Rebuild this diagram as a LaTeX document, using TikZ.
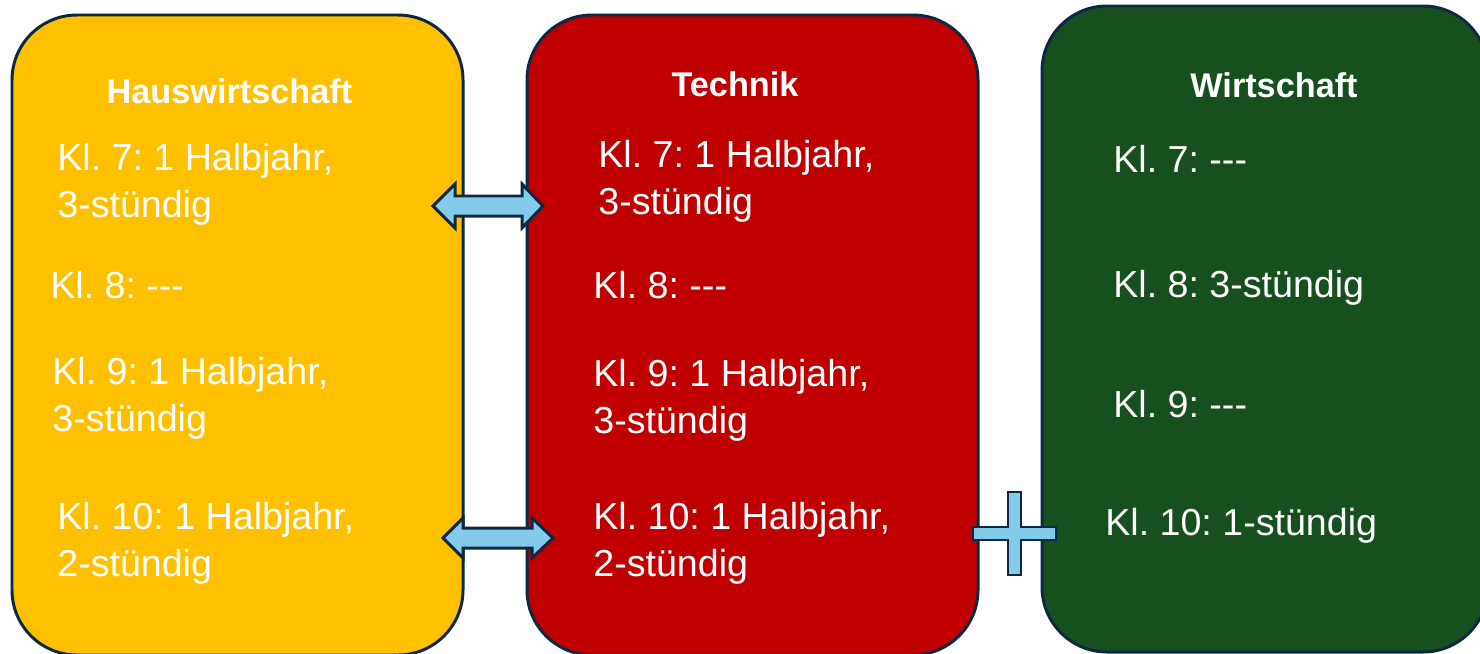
\documentclass[tikz,border=0pt]{standalone}
\usepackage{fontspec}
\setmainfont{Liberation Sans}
\frenchspacing
\definecolor{hwyellow}{HTML}{FFC000}
\definecolor{tered}{HTML}{C00000}
\definecolor{wigreen}{HTML}{17501F}
\definecolor{edgeblue}{HTML}{0E2841}
\definecolor{arrowblue}{HTML}{83CAEB}
\tikzset{
    box/.style={draw=edgeblue,line width=1.7pt,rounded corners=1.3cm},
    head/.style={text=white,font=\fontsize{19.5}{24}\selectfont\bfseries,anchor=base,inner sep=0pt},
    entry/.style={text=white,font=\fontsize{21.4}{26.7}\selectfont,anchor=base west,align=left,inner sep=0pt},
    blockarrow/.style={draw=edgeblue,fill=arrowblue,line width=1.7pt,line join=miter},
}

\begin{document}
\begin{tikzpicture}[x=0.02cm,y=-0.02cm]
            \clip (0,0) rectangle (1480,653);
            \fill[white] (0,0) rectangle (1480,653);
            \draw[box,fill=hwyellow] (12,15) rectangle (463,655);
            \draw[box,fill=tered] (527,15) rectangle (978,655);
            \draw[box,fill=wigreen] (1042,6) rectangle (1488,652);

            \node[head] (hw) at (229.5,103) {Hauswirtschaft};
            \node[entry] (hw7) at (57,217) {Kl. 7: 1 Halbjahr,\\3-stündig};
            \node[entry] (hw8) at (50,298) {Kl. 8: -{}-{}-};
            \node[entry] (hw9) at (52,431) {Kl. 9: 1 Halbjahr,\\3-stündig};
            \node[entry] (hw10) at (57,576) {Kl. 10: 1 Halbjahr,\\2-stündig};

            \node[head] (te) at (735,96) {Technik};
            \node[entry] (te7) at (598,214) {Kl. 7: 1 Halbjahr,\\3-stündig};
            \node[entry] (te8) at (593,298) {Kl. 8: -{}-{}-};
            \node[entry] (te9) at (593,433) {Kl. 9: 1 Halbjahr,\\3-stündig};
            \node[entry] (te10) at (593,576) {Kl. 10: 1 Halbjahr,\\2-stündig};

            \node[head] (wi) at (1274,97) {Wirtschaft};
            \node[entry] (wi7) at (1113,172) {Kl. 7: -{}-{}-};
            \node[entry] (wi8) at (1113,297) {Kl. 8: 3-stündig};
            \node[entry] (wi9) at (1113,417) {Kl. 9: -{}-{}-};
            \node[entry] (wi10) at (1105,535) {Kl. 10: 1-stündig};

            \draw[blockarrow] (433,206)--(455,184)--(455,196)--(522,196)--(522,184)--(543,206)--(522,228)--(522,216)--(455,216)--(455,228)--cycle;
            \draw[blockarrow] (443,538)--(463,518)--(463,528)--(532,528)--(532,518)--(553,538)--(532,558)--(532,548)--(463,548)--(463,558)--cycle;
            \draw[blockarrow,line width=0.8pt] (1008,492)--(1021,492)--(1021,527)--(1056,527)--(1056,540)--(1021,540)--(1021,575)--(1008,575)--(1008,540)--(973,540)--(973,527)--(1008,527)--cycle;
        \end{tikzpicture}
\end{document}
